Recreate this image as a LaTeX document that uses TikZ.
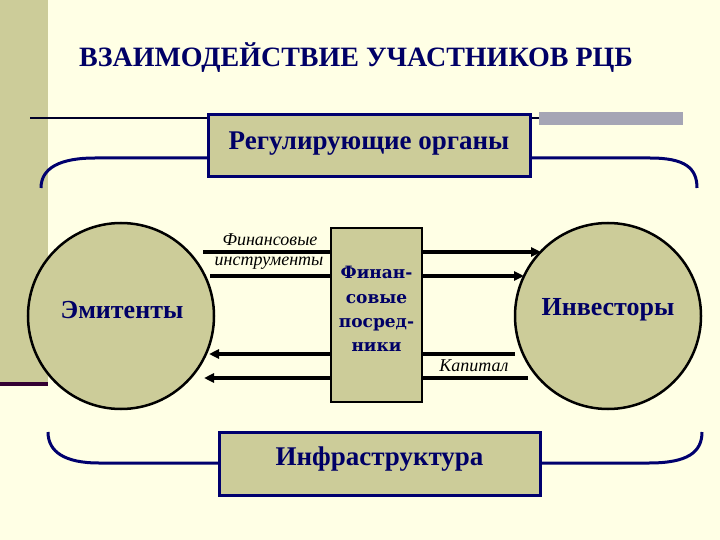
\documentclass[tikz,border=0pt]{standalone}
\usepackage{fontspec}
\setmainfont{Liberation Serif}
\newfontfamily\midfont{DejaVu Serif}
\usetikzlibrary{arrows.meta}
\definecolor{bg}{RGB}{255,255,229}
\definecolor{strip}{RGB}{204,204,153}
\definecolor{khaki}{RGB}{204,204,153}
\definecolor{navy}{RGB}{0,0,102}
\definecolor{boxline}{RGB}{0,0,110}
\definecolor{greybar}{RGB}{165,165,181}
\definecolor{darkline}{RGB}{51,0,51}
\definecolor{topline}{RGB}{0,0,40}
\tikzset{
  bigbox/.style={draw=boxline, line width=3pt, fill=khaki, inner sep=0pt},
  boxtext/.style={text=navy, font=\bfseries\fontsize{27}{30}\selectfont, inner sep=0pt},
  circ/.style={circle, draw=black, line width=2.5pt, fill=khaki,
    minimum size=186pt, inner sep=0pt},
  circtext/.style={text=navy, font=\bfseries\fontsize{26}{30}\selectfont, inner sep=0pt},
  bracket/.style={draw=boxline, line width=3pt},
  flow/.style={line width=3.5pt, -{Triangle[length=10pt,width=9pt]}},
  lbl/.style={font=\itshape\fontsize{18}{20}\selectfont, inner sep=0pt}
}
\begin{document}
\begin{tikzpicture}[x=1pt,y=-1pt]
\useasboundingbox (0,0) rectangle (720,540);
\fill[bg] (0,0) rectangle (720,540);
\fill[strip] (0,0) rectangle (48,382);
\fill[darkline] (0,382) rectangle (48,386);
% title
\node[font=\bfseries\fontsize{28}{32}\selectfont, text=navy] (title) at (356,58) {ВЗАИМОДЕЙСТВИЕ УЧАСТНИКОВ РЦБ};
% top line and grey bar
\draw[topline, line width=2pt] (30,118) -- (540,118);
\fill[greybar] (539,112) rectangle (683,125);
% brackets
\draw[bracket] (41,188) .. controls (41,168) and (60,158) .. (95,158) -- (300,158);
\draw[bracket] (450,158) -- (650,158) .. controls (685,158) and (697,168) .. (697,188);
\draw[bracket] (48,432) .. controls (48,452) and (65,463) .. (99,463) -- (300,463);
\draw[bracket] (450,463) -- (649,463) .. controls (688,463) and (702,452) .. (702,432);
% boxes
\node[bigbox, minimum width=322pt, minimum height=62pt] (reg) at (369,146) {};
\node[boxtext] (regtext) at (369,144) {Регулирующие органы};
\node[bigbox, minimum width=321pt, minimum height=63pt] (infra) at (379.5,463.5) {};
\node[boxtext] (infratext) at (379.5,459) {Инфраструктура};
% circles
\node[circ] (emit) at (121,316) {};
\node[circtext] (emittext) at (122,310) {Эмитенты};
\node[circ] (inv) at (608,316) {};
\node[circtext] (invtext) at (608,310) {Инвесторы};
% arrows
\coordinate (a1s) at (203,252); \coordinate (a1e) at (541,252);
\coordinate (a2s) at (210,276); \coordinate (a2e) at (524,276);
\coordinate (b1s) at (515,354); \coordinate (b1e) at (209,354);
\coordinate (b2s) at (528,378); \coordinate (b2e) at (204,378);
\draw[flow] (a1s) -- (a1e);
\draw[flow] (a2s) -- (a2e);
\draw[flow] (b1s) -- (b1e);
\draw[flow] (b2s) -- (b2e);
% middle box
\node[draw=black, line width=1.5pt, fill=khaki, minimum width=91pt, minimum height=174pt, inner sep=0pt] (mid) at (376.5,315) {};
\node[align=center, text=navy, font=\midfont\bfseries\fontsize{17}{24.3}\selectfont] (midtext) at (376.5,309) {Финан-\\совые\\посред-\\ники};
% labels
\node[lbl] (l1) at (270,240) {Финансовые};
\node[lbl] (l2) at (269,263) {инструменты};
\node[lbl] (l3) at (474,366) {Капитал};
\end{tikzpicture}
\end{document}
